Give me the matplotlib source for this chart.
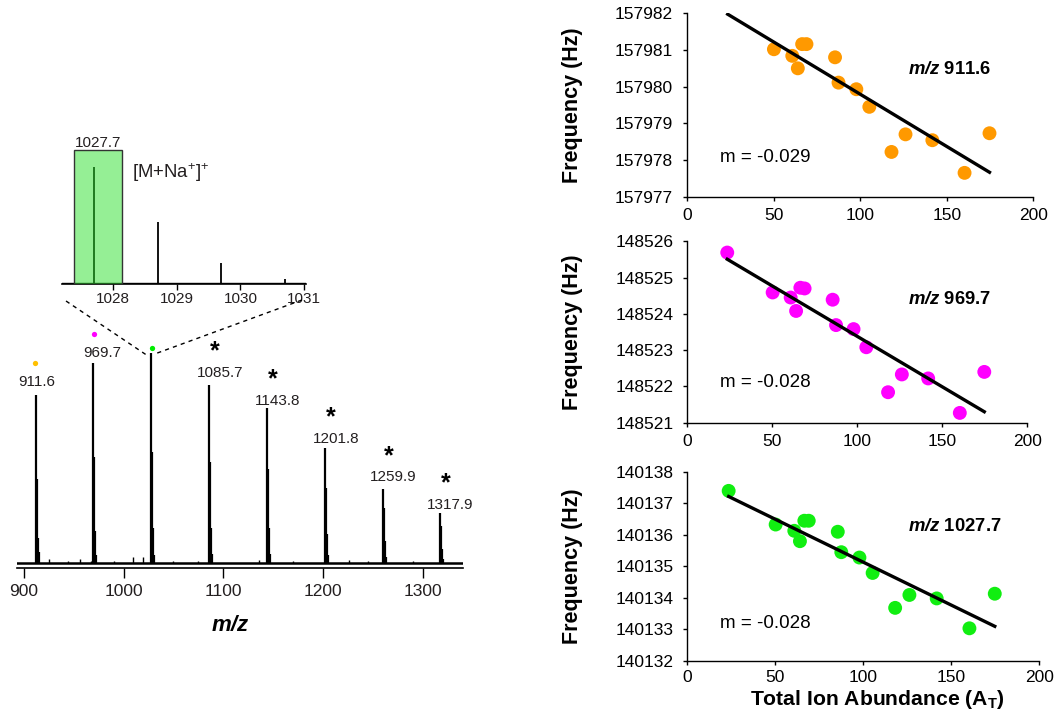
import numpy as np
import matplotlib
matplotlib.use('Agg')
import matplotlib.pyplot as plt
from matplotlib.patches import Rectangle
from matplotlib.lines import Line2D
from matplotlib.ticker import FormatStrFormatter

plt.rcParams['font.family'] = ['Liberation Sans', 'DejaVu Sans']
plt.rcParams['mathtext.fontset'] = 'custom'
plt.rcParams['mathtext.rm'] = 'Liberation Sans'
plt.rcParams['mathtext.it'] = 'Liberation Sans:italic'
plt.rcParams['mathtext.bf'] = 'Liberation Sans:bold'
plt.rcParams['mathtext.bfit'] = 'Liberation Sans:bold:italic'

# ---------------- data ----------------
# mass spectrum (relative intensity, base peak = 100)
peak_mz = [911.6, 969.7, 1027.7, 1085.7, 1143.8, 1201.8, 1259.9, 1317.9]
peak_int = [80.1, 95.5, 100.0, 84.9, 73.8, 55.0, 35.4, 24.1]
iso_ratio = [[1, 0.50, 0.15, 0.07], [1, 0.53, 0.16, 0.04], [1, 0.53, 0.17, 0.04],
             [1, 0.57, 0.20, 0.05], [1, 0.61, 0.23, 0.06], [1, 0.65, 0.25, 0.07],
             [1, 0.74, 0.30, 0.08], [1, 0.74, 0.28, 0.08]]
peak_labels = ['911.6', '969.7', '', '1085.7', '1143.8', '1201.8', '1259.9', '1317.9']
noise_mz = [925.1, 944.0, 956.2, 967.0, 990.0, 1009.7, 1019.7, 1050.0, 1075.0,
            1136.1, 1170.0, 1226.4, 1245.0, 1290.0]
noise_int = [2.0, 1.2, 2.2, 1.2, 1.0, 2.8, 2.8, 1.0, 1.0, 1.5, 1.0, 1.5, 1.0, 1.0]

# inset (zoom on 1027.7 isotope cluster)
inset_mz = [1027.7, 1028.7, 1029.7, 1030.7]
inset_int = [100.0, 53.0, 17.5, 3.2]
inset_ticks = [1028, 1029, 1030, 1031]

# frequency vs total ion abundance
abundance = [23.5, 50.2, 60.8, 64.0, 66.5, 69.0, 85.5, 87.5, 97.8, 105.3,
             118.1, 126.2, 141.7, 160.3, 174.7]
freq_911 = [157982.40, 157981.02, 157980.84, 157980.50, 157981.16, 157981.16, 157980.80,
            157980.11, 157979.93, 157979.45, 157978.22, 157978.70, 157978.54,
            157977.65, 157978.73]
freq_969 = [148525.69, 148524.59, 148524.45, 148524.08, 148524.72, 148524.70, 148524.39,
            148523.69, 148523.58, 148523.08, 148521.84, 148522.33, 148522.22,
            148521.27, 148522.40]
freq_1027 = [140137.40, 140136.33, 140136.13, 140135.80, 140136.45, 140136.45, 140136.10,
             140135.45, 140135.28, 140134.79, 140133.68, 140134.09, 140133.98,
             140133.03, 140134.13]
fit_911 = (-0.0285, 157982.645)
fit_969 = (-0.0278, 148526.159)
fit_1027 = (-0.0273, 140137.8625)
slope_labels = ['m = -0.029', 'm = -0.028', 'm = -0.028']
ion_names = ['911.6', '969.7', '1027.7']
abund_ticks = [0, 50, 100, 150, 200]

# ---------------- layout helpers ----------------
W, H = 1058, 717
fig = plt.figure(figsize=(W / 100, H / 100), dpi=100)


def rect(x0, y0, x1, y1):
    return [x0 / W, 1 - y1 / H, (x1 - x0) / W, (y1 - y0) / H]


def ftext(x, y, s, **kw):
    return fig.text(x / W, 1 - y / H, s, **kw)


TXT = '#231f20'

# ---------------- mass spectrum ----------------
ax = fig.add_axes(rect(16.7, 330, 463.3, 568.3))
ax.set_xlim(892.7, 1340.8)
ax.set_ylim(-2.38, 111.1)
for s in ['left', 'right', 'top']:
    ax.spines[s].set_visible(False)
ax.spines['bottom'].set_linewidth(1.2)
ax.yaxis.set_visible(False)
ax.set_xticks([900, 1000, 1100, 1200, 1300])
ax.tick_params(axis='x', direction='out', length=7, width=1, labelsize=12.5, pad=4,
               labelcolor=TXT)
ax.axhline(0, color='black', lw=1.8)
ax.vlines(noise_mz, 0, noise_int, color='black', lw=1.0)
for mz, h, ratios in zip(peak_mz, peak_int, iso_ratio):
    xs = [mz + k * 1.003 for k in range(len(ratios))]
    ys = [h * r for r in ratios]
    ax.vlines(xs, 0, ys, color='black', lw=1.6)

label_off = [(1, 15), (9, 11), (0, 0), (11, 14), (11, 9), (11, 10), (11, 13), (10, 9)]
for i, (mz, h, lab) in enumerate(zip(peak_mz, peak_int, peak_labels)):
    dx, dy = label_off[i]
    if lab:
        ax.annotate(lab, xy=(mz, h), xytext=(dx, dy - 5.5), textcoords='offset pixels',
                    ha='center', va='baseline', fontsize=11, color=TXT,
                    annotation_clip=False)
    if i >= 3:
        ax.annotate(r'$\mathbf{*}$', xy=(mz, h), xytext=(dx - 5, dy + 21),
                    textcoords='offset pixels', ha='center', va='center',
                    fontsize=18, color='black', annotation_clip=False)

dot_cols = ['#FFC000', '#FF00FF', '#00EE00']
dot_off = [(-0.6, 32.3), (0.5, 28.7), (0.4, 5)]
for i in range(3):
    x_disp, y_disp = ax.transData.transform((peak_mz[i], peak_int[i]))
    x_d, y_d = ax.transData.inverted().transform((x_disp + dot_off[i][0], y_disp + dot_off[i][1]))
    ax.plot([x_d], [y_d], 'o', ms=3.8, color=dot_cols[i], mec='none', clip_on=False)

ftext(230, 631, r'$\mathbfit{m/z}$', ha='center', va='baseline', fontsize=16)

# ---------------- inset ----------------
axi = fig.add_axes(rect(62.3, 139, 306, 284))
axi.set_xlim(1027.198, 1031.03)
axi.set_ylim(-1, 124.3)
for s in ['left', 'right', 'top']:
    axi.spines[s].set_visible(False)
axi.spines['bottom'].set_linewidth(1.2)
axi.yaxis.set_visible(False)
axi.set_xticks(inset_ticks)
axi.tick_params(axis='x', direction='out', length=4, width=1, labelsize=11, pad=2,
                labelcolor=TXT)
axi.axhline(0, color='black', lw=1.0)
axi.vlines(inset_mz, 0, inset_int, color='black', lw=1.3)
box = Rectangle((1027.38, -1), 0.757, 115.8, facecolor=(45 / 255, 225 / 255, 45 / 255),
                alpha=0.5, edgecolor='none', zorder=3)
axi.add_patch(box)
axi.add_patch(Rectangle((1027.38, -1), 0.757, 115.8, facecolor='none',
                        edgecolor='#333333', lw=1.0, zorder=4))
axi.annotate('1027.7', xy=(1027.38 + 0.757 / 2, 114.8), xytext=(0, 3),
             textcoords='offset pixels', ha='center', va='baseline', fontsize=11,
             color=TXT, annotation_clip=False)
ftext(131.7, 178, r'[M+Na$^{+}$]$^{+}$', ha='left', va='baseline', fontsize=13.3, color=TXT)

# dashed zoom lines
for (x0, y0), (x1, y1) in [((66, 301), (146.5, 355)), ((302, 300), (156, 353.5))]:
    fig.add_artist(Line2D([x0 / W, x1 / W], [1 - y0 / H, 1 - y1 / H], lw=1.0,
                          color='black', linestyle=(0, (3, 3))))

# ---------------- scatter panels ----------------
panels = [
    dict(rect=(687, 13.3, 1033.3, 196.7), ylim=(157977, 157982), y=freq_911,
         fit=fit_911, col='#FF9900', name_y=73.9, m_y=161.7),
    dict(rect=(687.3, 241.3, 1027.3, 422.7), ylim=(148521, 148526), y=freq_969,
         fit=fit_969, col='#FF00FF', name_y=303.9, m_y=386.7),
    dict(rect=(687.3, 472, 1039.3, 660.7), ylim=(140132, 140138), y=freq_1027,
         fit=fit_1027, col='#11EE11', name_y=530.6, m_y=627.7),
]
for i, p in enumerate(panels):
    x0, y0, x1, y1 = p['rect']
    a = fig.add_axes(rect(x0, y0, x1, y1))
    a.set_xlim(0, 200)
    a.set_ylim(*p['ylim'])
    a.set_xticks(abund_ticks)
    a.set_yticks(np.arange(p['ylim'][0], p['ylim'][1] + 1))
    a.yaxis.set_major_formatter(FormatStrFormatter('%d'))
    for s in ['right', 'top']:
        a.spines[s].set_visible(False)
    for s in ['left', 'bottom']:
        a.spines[s].set_linewidth(1.0)
    a.tick_params(axis='both', direction='out', length=3, width=1, labelsize=12.5,
                  labelcolor='black')
    a.tick_params(axis='x', pad=4 if i == 2 else 5)
    a.tick_params(axis='y', pad=7)
    a.scatter(abundance, p['y'], s=100, color=p['col'], edgecolors='none', zorder=3)
    m, b = p['fit']
    xf = np.array([min(abundance), max(abundance)])
    a.plot(xf, m * xf + b, color='black', lw=2.4, zorder=4)
    ftext(907.7, p['name_y'], r'$\mathbfit{m/z}$ ' + ion_names[i], ha='left',
          va='baseline', fontsize=13.3, fontweight='bold')
    ftext(720, p['m_y'], slope_labels[i], ha='left', va='baseline', fontsize=13.5)
    ftext(572, (y0 + y1) / 2, 'Frequency (Hz)', rotation=90, ha='center', va='center',
          fontsize=15.5, fontweight='bold')

ftext(877, 705, r'Total Ion Abundance (A$_{\mathbf{T}}$)', ha='center', va='baseline',
      fontsize=15.2, fontweight='bold')

fig.savefig('out.png', dpi=100)
